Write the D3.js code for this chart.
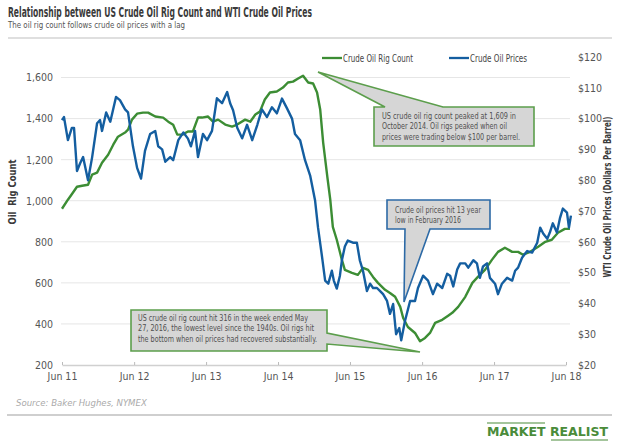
<!DOCTYPE html>
<html><head><meta charset="utf-8">
<script src="https://cdn.jsdelivr.net/npm/d3@7"></script>
<style>
body{margin:0;background:#fff}
svg{display:block}
text{font-family:'Liberation Sans Narrow','DejaVu Sans Condensed','Roboto',sans-serif}
</style></head><body><svg id="c" width="620" height="444"></svg>
<script>
const rigDates=["2011-06-01","2011-07-01","2011-07-26","2011-08-16","2011-09-11","2011-10-11","2011-11-01","2011-11-26","2011-12-21","2012-01-21","2012-02-16","2012-03-11","2012-04-16","2012-05-01","2012-05-21","2012-06-16","2012-07-16","2012-08-11","2012-09-16","2012-10-26","2012-11-21","2012-12-16","2013-01-06","2013-02-01","2013-03-01","2013-03-26","2013-04-21","2013-05-11","2013-06-11","2013-07-06","2013-08-01","2013-09-06","2013-10-11","2013-11-06","2013-12-16","2014-01-11","2014-02-06","2014-03-01","2014-03-26","2014-04-21","2014-05-26","2014-06-26","2014-07-21","2014-08-16","2014-09-11","2014-10-06","2014-11-01","2014-11-26","2014-12-16","2015-01-01","2015-01-16","2015-02-06","2015-02-21","2015-03-06","2015-03-26","2015-04-21","2015-05-06","2015-06-11","2015-07-11","2015-08-06","2015-09-01","2015-09-26","2015-10-21","2015-11-26","2015-12-21","2016-01-16","2016-02-11","2016-02-26","2016-03-21","2016-04-26","2016-05-21","2016-06-16","2016-07-11","2016-08-06","2016-09-11","2016-10-11","2016-11-01","2016-12-01","2017-01-06","2017-02-11","2017-03-11","2017-04-16","2017-05-21","2017-06-21","2017-07-26","2017-09-01","2017-10-01","2017-10-26","2017-12-01","2018-01-11","2018-02-16","2018-03-21","2018-04-21","2018-05-26","2018-06-21"];
const rigValues=[961,1005,1039,1068,1073,1078,1127,1137,1185,1224,1273,1312,1332,1346,1395,1424,1429,1429,1410,1405,1385,1370,1322,1322,1337,1337,1405,1405,1410,1385,1395,1371,1361,1371,1395,1385,1420,1434,1493,1527,1532,1551,1576,1580,1595,1609,1576,1571,1527,1444,1283,1117,1005,873,810,712,663,649,639,673,663,629,600,566,551,532,483,429,385,356,316,332,356,405,420,440,454,483,532,600,629,663,712,751,771,751,751,737,751,776,800,810,844,863,863];

const priceDates=["2011-06-01","2011-06-11","2011-07-01","2011-07-21","2011-08-01","2011-08-16","2011-09-01","2011-09-16","2011-10-11","2011-11-01","2011-11-26","2011-12-11","2011-12-21","2012-01-11","2012-02-01","2012-03-01","2012-03-21","2012-04-16","2012-05-01","2012-05-26","2012-06-16","2012-07-06","2012-07-26","2012-08-21","2012-09-16","2012-10-01","2012-10-21","2012-11-06","2012-12-01","2012-12-16","2013-01-11","2013-02-06","2013-03-01","2013-03-16","2013-04-06","2013-04-21","2013-05-16","2013-06-06","2013-07-01","2013-07-26","2013-08-21","2013-09-16","2013-10-01","2013-10-16","2013-11-06","2013-12-01","2013-12-26","2014-01-21","2014-02-16","2014-03-11","2014-04-06","2014-05-01","2014-05-26","2014-06-21","2014-07-16","2014-08-11","2014-08-26","2014-09-21","2014-10-16","2014-11-11","2014-12-06","2014-12-21","2015-01-11","2015-01-26","2015-02-11","2015-03-01","2015-03-11","2015-03-26","2015-04-11","2015-04-21","2015-05-06","2015-05-21","2015-06-16","2015-07-06","2015-07-21","2015-08-06","2015-08-26","2015-09-11","2015-09-26","2015-10-16","2015-11-01","2015-11-16","2015-12-06","2015-12-21","2016-01-06","2016-01-21","2016-02-06","2016-02-16","2016-03-06","2016-04-01","2016-04-26","2016-05-11","2016-06-06","2016-07-01","2016-07-26","2016-08-16","2016-09-11","2016-10-06","2016-10-21","2016-11-06","2016-11-26","2016-12-11","2017-01-06","2017-01-21","2017-02-16","2017-03-06","2017-03-21","2017-04-06","2017-04-26","2017-05-11","2017-06-06","2017-06-21","2017-07-11","2017-08-06","2017-09-01","2017-09-16","2017-10-01","2017-10-21","2017-11-16","2017-12-11","2018-01-06","2018-01-21","2018-02-06","2018-02-26","2018-03-11","2018-03-26","2018-04-16","2018-05-01","2018-05-16","2018-06-06","2018-06-16","2018-06-26"];
const priceValues=[99.5,100.5,93,97,97,83,85.5,87.5,80,87.5,98.5,99.5,96,102,99,107,106,103,102,91,84,80.5,89.5,95,96,91,90,86,87.5,86.5,93,95.5,93.5,91,96,87.5,95,93,96,106.6,105,108.6,105,102.7,97,93.6,98,93,98,103,100.5,103.7,101.7,106.5,103.4,100,95,93,86.5,81.5,73.4,64.6,54.8,47.4,46.4,50.6,47.4,44.8,49,54,58.5,60.4,59.7,59.7,54,50.6,44,46.4,45,45,44,43,40.8,36.6,39.8,30,32,28,34.3,40.8,40.8,45,49,47.4,43,46.4,45,49.6,49,45.5,51,53,53,51.6,54,53,48.3,52,53,48.3,46.4,43,46.4,48.3,47.4,50.6,51.6,54.8,57,56.5,59.7,64.6,62.6,61,63,66,63,67.6,70.8,69.5,64.6,68.5];

const xTickDates=["2011-06-01","2012-06-01","2013-06-01","2014-06-01","2015-06-01","2016-06-01","2017-06-01","2018-06-01"];
const xTickLabels=["Jun 11","Jun 12","Jun 13","Jun 14","Jun 15","Jun 16","Jun 17","Jun 18"];
const rigTicks=[200,400,600,800,1000,1200,1400,1600];
const priceTicks=[20,30,40,50,60,70,80,90,100,110,120];

const GREEN="#3c8d34", BLUE="#145ea0";
const parse=d3.timeParse("%Y-%m-%d");
const svg=d3.select("#c");

const x=d3.scaleTime().domain([parse(xTickDates[0]),parse(xTickDates[7])]).range([62,566]);
const yL=d3.scaleLinear().domain([200,1700]).range([365,57]);
const yR=d3.scaleLinear().domain([20,120]).range([365,57]);

// title
svg.append("text").attr("x",8).attr("y",17).attr("font-size",13.5).attr("font-weight","bold").attr("fill","#3a3a3a")
  .attr("textLength",304).attr("lengthAdjust","spacingAndGlyphs")
  .text("Relationship between US Crude Oil Rig Count and WTI Crude Oil Prices");
svg.append("text").attr("x",8).attr("y",28).attr("font-size",9.5).attr("fill","#555")
  .attr("textLength",177).attr("lengthAdjust","spacingAndGlyphs")
  .text("The oil rig count follows crude oil prices with a lag");
svg.append("line").attr("x1",8).attr("x2",612).attr("y1",38).attr("y2",38).attr("stroke","#d4d4d4").attr("stroke-width",1.5);

// gridlines
svg.append("g").selectAll("line").data(rigTicks.filter(d=>d>200)).join("line")
  .attr("x1",61).attr("x2",570).attr("y1",d=>yL(d)).attr("y2",d=>yL(d))
  .attr("stroke","#e6e6e6").attr("stroke-width",1);

// left axis
const gl=svg.append("g").attr("transform","translate(62,0)")
  .call(d3.axisLeft(yL).tickValues(rigTicks).tickSize(0).tickPadding(9).tickFormat(d3.format(",")));
gl.select(".domain").remove();
gl.selectAll("text").attr("font-size",10.5).attr("fill","#555");

// right axis
const gr=svg.append("g").attr("transform","translate(570,0)")
  .call(d3.axisRight(yR).tickValues(priceTicks).tickSize(0).tickPadding(8).tickFormat(d=>"$"+d));
gr.select(".domain").remove();
gr.selectAll("text").attr("font-size",10.5).attr("fill","#555");

// x axis
const gx=svg.append("g").attr("transform","translate(0,365)")
  .call(d3.axisBottom(x).tickValues(xTickDates.map(parse)).tickSizeInner(-3).tickSizeOuter(0).tickPadding(8)
    .tickFormat((d,i)=>xTickLabels[i]));
gx.select(".domain").attr("stroke","#d0d0d0").attr("stroke-width",1.5);
gx.selectAll(".tick line").attr("stroke","#bbb");
gx.selectAll("text").attr("font-size",10.5).attr("fill","#555");

// axis titles
svg.append("text").attr("transform","translate(16,192) rotate(-90)").attr("text-anchor","middle")
  .attr("font-size",11).attr("font-weight","bold").attr("fill","#3a3a3a").attr("xml:space","preserve")
  .attr("textLength",65).attr("lengthAdjust","spacingAndGlyphs").text("Oil  Rig Count");
svg.append("text").attr("transform","translate(611,197) rotate(-90)").attr("text-anchor","middle")
  .attr("font-size",11).attr("font-weight","bold").attr("fill","#3a3a3a")
  .attr("textLength",161).attr("lengthAdjust","spacingAndGlyphs")
  .text("WTI Crude Oil Prices (Dollars Per Barrel)");

// lines
const rigData=rigDates.map((d,i)=>({date:parse(d),v:rigValues[i]}));
const priceData=priceDates.map((d,i)=>({date:parse(d),v:priceValues[i]}));
svg.append("path").datum(rigData).attr("fill","none").attr("stroke",GREEN).attr("stroke-width",2.4).attr("stroke-linejoin","round")
  .attr("d",d3.line().x(d=>x(d.date)).y(d=>yL(d.v)));
svg.append("path").datum(priceData).attr("fill","none").attr("stroke",BLUE).attr("stroke-width",2.4).attr("stroke-linejoin","round")
  .attr("d",d3.line().x(d=>x(d.date)).y(d=>yR(d.v)));

// legend
const leg=[{label:"Crude Oil Rig Count",c:GREEN,x:322,w:70},{label:"Crude Oil Prices",c:BLUE,x:449,w:57}];
leg.forEach(l=>{
  svg.append("line").attr("x1",l.x).attr("x2",l.x+20).attr("y1",58).attr("y2",58).attr("stroke",l.c).attr("stroke-width",2.3);
  svg.append("text").attr("x",l.x+21).attr("y",61.5).attr("font-size",10).attr("fill","#444")
    .attr("textLength",l.w).attr("lengthAdjust","spacingAndGlyphs").text(l.label);
});

// callouts
function callout(pathD,stroke,lines,tx,ty,widths){
  svg.append("path").attr("d",pathD).attr("fill","#d6d6d6").attr("stroke",stroke).attr("stroke-width",1.6);
  lines.forEach((t,i)=>{
    svg.append("text").attr("x",tx).attr("y",ty+i*10.3).attr("font-size",9.3).attr("fill","#505050")
      .attr("textLength",widths[i]).attr("lengthAdjust","spacingAndGlyphs").text(t);
  });
}
callout("M374,107 L385,107 L318,72 L443,107 L534,107 L534,146 L374,146 Z","#5c9e4c",
  ["US crude oil rig count peaked at 1,609 in","October 2014. Oil rigs peaked when oil","prices were trading below $100 per barrel."],
  382,119,[134,125,138]);
callout("M387,200 L490,200 L490,229 L430,229 L404,302 L405,229 L387,229 Z","#2d6aa6",
  ["Crude oil prices hit 13 year","low in February 2016"],395,213,[86,66]);
callout("M131,310 L327,310 L327,333 L420,352 L327,344 L327,351 L131,351 Z","#5c9e4c",
  ["US crude oil rig count hit 316 in the week ended May","27, 2016, the lowest level since the 1940s. Oil rigs hit","the bottom when oil prices had recovered substantially."],
  138,321,[170,176,179]);

// source
svg.append("text").attr("x",16).attr("y",406).attr("font-size",9.5).attr("font-style","italic").attr("fill","#aaa")
  .text("Source: Baker Hughes, NYMEX");
svg.append("line").attr("x1",7).attr("x2",612).attr("y1",415).attr("y2",415).attr("stroke","#cfcfcf").attr("stroke-width",2);

// logo
svg.append("line").attr("x1",487).attr("x2",545).attr("y1",423).attr("y2",423).attr("stroke","#4a8c3a").attr("stroke-width",1.2);
svg.append("text").attr("x",487).attr("y",436).attr("font-size",12).attr("font-weight","bold").attr("fill","#4a8c3a")
  .attr("font-family","'Liberation Sans','DejaVu Sans',sans-serif")
  .attr("textLength",121).attr("lengthAdjust","spacingAndGlyphs").text("MARKET REALIST");
svg.append("line").attr("x1",551).attr("x2",608).attr("y1",440).attr("y2",440).attr("stroke","#4a8c3a").attr("stroke-width",1.2);
</script></body></html>
